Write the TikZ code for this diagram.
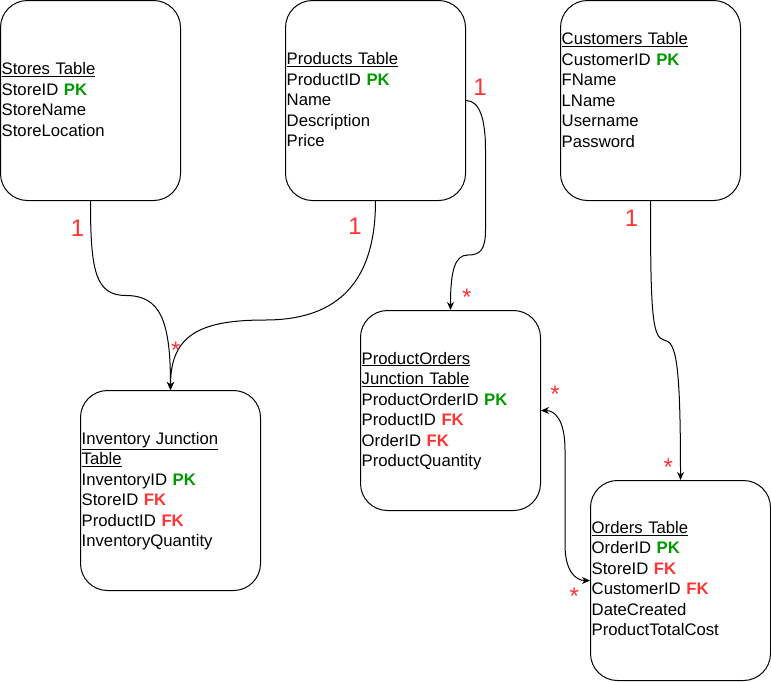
\documentclass[tikz,border=0pt]{standalone}
\usepackage{fontspec}
\setmainfont{Liberation Sans}
\usetikzlibrary{arrows.meta}
\definecolor{pkgreen}{HTML}{009900}
\definecolor{fkred}{HTML}{FF3333}
\newcommand{\pkmark}{\textcolor{pkgreen}{\textbf{PK}}}
\newcommand{\fkmark}{\textcolor{fkred}{\textbf{FK}}}

\begin{document}
\begin{tikzpicture}[x=1pt,y=1pt,
    >={Stealth[length=8pt,width=7pt,inset=2.5pt]},
    tablebox/.style={draw, line width=1pt, rounded corners=27pt, minimum width=180pt, minimum height=200pt, inner sep=0pt},
    fields/.style={anchor=base west, inner sep=0pt, text width=178pt, align=left, font=\fontsize{16.7}{20.5}\selectfont},
    card/.style={anchor=base, inner sep=0pt, text=fkred, font=\fontsize{24}{28}\selectfont},
    link/.style={line width=1pt, ->}]
    \useasboundingbox (0,0) rectangle (771,-681);

    \node[tablebox] (stores) at (90.5,-100.5) {};
    \node[tablebox] (products) at (375.5,-100.5) {};
    \node[tablebox] (customers) at (650.5,-100.5) {};
    \node[tablebox] (inventory) at (170.5,-490.5) {};
    \node[tablebox] (prodorders) at (450.5,-410.5) {};
    \node[tablebox] (orders) at (680.5,-580.5) {};

    \node[fields] (storesfields) at (1.5,-74.7) {\underline{Stores Table}\\StoreID \pkmark\\StoreName\\StoreLocation};
    \node[fields] (productsfields) at (286.5,-64.7) {\underline{Products Table}\\ProductID \pkmark\\Name\\Description\\Price};
    \node[fields] (customersfields) at (561.5,-44.7) {\underline{Customers Table}\\CustomerID \pkmark\\FName\\LName\\Username\\Password};
    \node[fields] (inventoryfields) at (81.5,-444.3) {\underline{Inventory Junction}\\\underline{Table}\\InventoryID \pkmark\\StoreID \fkmark\\ProductID \fkmark\\InventoryQuantity};
    \node[fields] (prodordersfields) at (361.5,-364) {\underline{ProductOrders}\\\underline{Junction Table}\\ProductOrderID \pkmark\\ProductID \fkmark\\OrderID \fkmark\\ProductQuantity};
    \node[fields] (ordersfields) at (591.5,-533.3) {\underline{Orders Table}\\OrderID \pkmark\\StoreID \fkmark\\CustomerID \fkmark\\DateCreated\\ProductTotalCost};

    % bends of the connectors
    \coordinate (storesbend) at (126,-295.5);
    \coordinate (productsbend) at (265,-320);
    \coordinate (sidetop) at (485.5,-150);
    \coordinate (sidebottom) at (485.5,-230);
    \coordinate (sidebend) at (468,-255);
    \coordinate (customersbend) at (664,-340);
    \coordinate (ordertop) at (565,-450);
    \coordinate (orderbottom) at (565,-545);

    \draw[link] (stores.south) .. controls (90.5,-270) and (95,-295.5) .. (storesbend)
        .. controls (160,-295.5) and (170.5,-320) .. (inventory.north);
    \draw[link] (products.south) .. controls (375.5,-290) and (330,-320) .. (productsbend)
        .. controls (200,-320) and (170.5,-335) .. (inventory.north);
    \draw[link] (products.east) .. controls (480,-100.5) and (485.5,-120) .. (sidetop) -- (sidebottom)
        .. controls (485.5,-250) and (480,-255) .. (sidebend)
        .. controls (455,-255) and (450.5,-270) .. (prodorders.north);
    \draw[link] (customers.south) .. controls (650.5,-310) and (652,-338) .. (customersbend)
        .. controls (676,-342) and (680.5,-360) .. (orders.north);
    \draw[link, <->] (prodorders.east) .. controls (555,-410.5) and (565,-420) .. (ordertop) -- (orderbottom)
        .. controls (565,-570) and (575,-580.5) .. (orders.west);

    \node[card] (storesone) at (77.5,-236) {1};
    \node[card] (productsone) at (355,-234.3) {1};
    \node[card] (sideone) at (480,-95) {1};
    \node[card] (customersone) at (631.5,-226.7) {1};
    \node[card] (inventorymany) at (175.7,-358) {*};
    \node[card] (prodordersmany) at (466.7,-305) {*};
    \node[card] (sidemany) at (555,-402) {*};
    \node[card] (ordersmany) at (668.3,-475.5) {*};
    \node[card] (leftmany) at (574.3,-604) {*};
\end{tikzpicture}
\end{document}
